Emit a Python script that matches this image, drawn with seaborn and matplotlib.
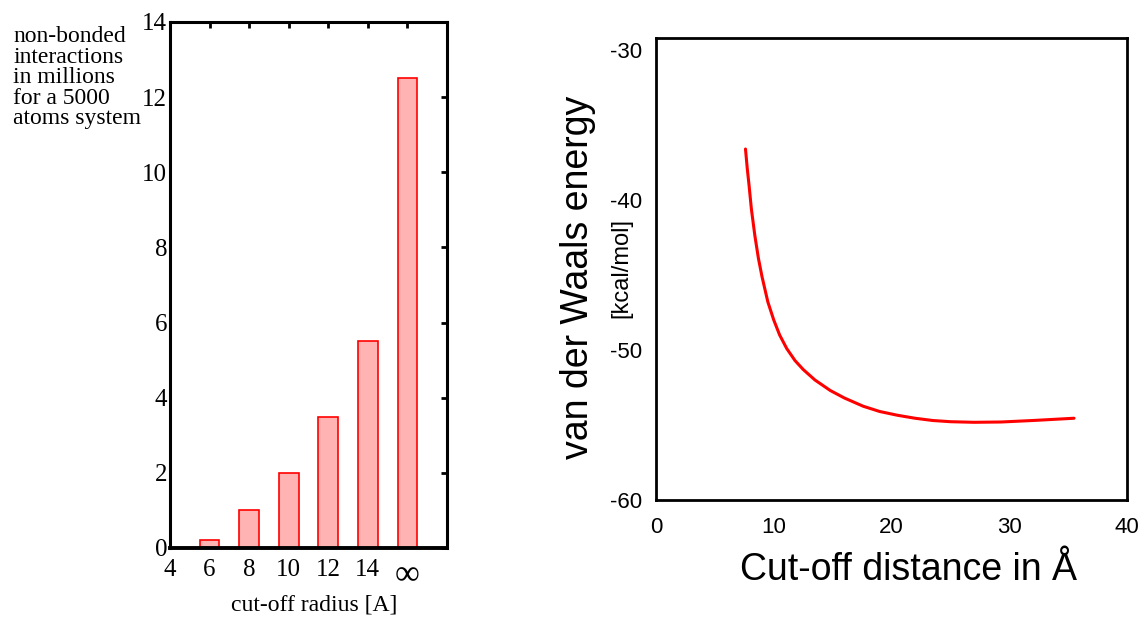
import numpy as np
import pandas as pd
import matplotlib
matplotlib.use("Agg")
import matplotlib.pyplot as plt
import seaborn as sns

# barras: raio de corte -> interacoes (milhoes)
radius_pos = [6, 8, 10, 12, 14, 16]
interactions = [0.2, 1.0, 2.0, 3.5, 5.5, 12.5]
radius_ticks = [4, 6, 8, 10, 12, 14, 16]
radius_labels = ["4", "6", "8", "10", "12", "14", "\u221e"]

# curva: energia de van der Waals vs distancia de corte
cutoff = [7.6, 7.75, 7.9, 8.1, 8.4, 8.7, 9.0, 9.5, 10.0, 10.5, 11.1, 11.8,
          12.5, 13.5, 14.8, 16.0, 17.6, 19.0, 20.5, 22.0, 23.5, 25.0, 27.0,
          29.3, 32.0, 35.5]
energy = [-36.6, -37.9, -39.0, -40.6, -42.4, -43.9, -45.1, -46.8, -48.0,
          -49.0, -49.9, -50.7, -51.3, -52.0, -52.7, -53.2, -53.75, -54.1,
          -54.35, -54.55, -54.7, -54.78, -54.82, -54.8, -54.7, -54.55]

SERIF = ["Liberation Serif", "DejaVu Serif"]
SANS = ["Liberation Sans", "DejaVu Sans"]

sns.set_style("white")
plt.rcParams["font.family"] = SANS
plt.rcParams["axes.unicode_minus"] = False
plt.rcParams["text.color"] = "black"
plt.rcParams["xtick.color"] = "black"
plt.rcParams["ytick.color"] = "black"

fig = plt.figure(figsize=(11.41, 6.17), dpi=100)

# ---- painel esquerdo: barras ----
ax1 = fig.add_axes([170 / 1141, 1 - 548 / 617, 277 / 1141, 526 / 617])
df_bar = pd.DataFrame({"r": radius_pos, "n": interactions})
sns.barplot(data=df_bar, x="r", y="n", native_scale=True, width=0.5,
            color="#ffb3b3", edgecolor="#ff0000", linewidth=1.2, saturation=1, ax=ax1)
ax1.set_xlim(4, 18)
ax1.set_ylim(0, 14)
ax1.set_xticks(radius_ticks)
ax1.set_xticklabels(radius_labels)
ax1.set_yticks(range(0, 15, 2))
ax1.set_xlabel("")
ax1.set_ylabel("")
ax1.tick_params(axis="both", direction="in", length=4, width=2, color="black")
ax1.tick_params(axis="x", bottom=False, top=True, pad=8)
ax1.tick_params(axis="y", left=False, right=True, pad=2)
for lab in ax1.get_xticklabels() + ax1.get_yticklabels():
    lab.set_family(SERIF)
    lab.set_fontsize(18)
    lab.set_color("black")
ax1.get_xticklabels()[-1].set_fontsize(25)
for side in ["left", "top", "right"]:
    ax1.spines[side].set_linewidth(2.2)
    ax1.spines[side].set_color("black")
ax1.spines["bottom"].set_linewidth(2.8)
ax1.spines["bottom"].set_color("black")

fig.text(13 / 1141, 1 - 26 / 617,
         "non-bonded\ninteractions\nin millions\nfor a 5000\natoms system",
         ha="left", va="top", fontsize=17, linespacing=0.97, family=SERIF,
         color="black")
fig.text(314 / 1141, 1 - 605 / 617, "cut-off radius [A]",
         ha="center", va="center", fontsize=17, family=SERIF, color="black")

# ---- painel direito: curva ----
ax2 = fig.add_axes([656 / 1141, 1 - 500 / 617, 471 / 1141, 462 / 617])
df_line = pd.DataFrame({"d": cutoff, "e": energy})
sns.lineplot(data=df_line, x="d", y="e", color="#ff0000", linewidth=2.2, ax=ax2)
ax2.set_xlim(0, 40)
ax2.set_ylim(-60, -29.2)
ax2.set_xticks([0, 10, 20, 30, 40])
ax2.set_yticks([-60, -50, -40, -30])
ax2.set_xlabel("")
ax2.set_ylabel("")
ax2.tick_params(axis="both", length=0, labelsize=16, labelcolor="black")
ax2.tick_params(axis="x", pad=12)
ax2.tick_params(axis="y", pad=10)
for side in ax2.spines:
    ax2.spines[side].set_linewidth(2)
    ax2.spines[side].set_color("black")

fig.text(578 / 1141, 1 - 277 / 617, "van der Waals energy", rotation=90,
         ha="center", va="center", fontsize=27, color="black")
fig.text(621 / 1141, 1 - 268 / 617, "[kcal/mol]", rotation=90,
         ha="center", va="center", fontsize=17, color="black")
fig.text(908 / 1141, 1 - 570 / 617, "Cut-off distance in \u00c5",
         ha="center", va="center", fontsize=27, color="black")

fig.savefig("out.png", dpi=100)
